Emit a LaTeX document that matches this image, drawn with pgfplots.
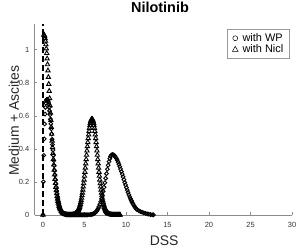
\documentclass[border=0pt]{standalone}
\usepackage{fontspec}
\setmainfont{Liberation Sans}
\usepackage{pgfplots}
\usepackage{pgfplotstable}
\pgfplotsset{compat=1.18}
\usetikzlibrary{calc}
\pgfplotsset{legend image code/.code={\draw[#1, mark options={line width=0.5bp, scale=1.3}] plot coordinates {(4bp,0bp)}; \path (0bp,0bp) (9bp,0bp);}}

\pgfplotstableread{
x y
0 0
0.05 0.20
0.1 0.36
0.15 0.46
0.2 0.55
0.25 0.61
0.3 0.65
0.35 0.675
0.4 0.69
0.45 0.698
0.5 0.700
0.55 0.698
0.6 0.692
0.65 0.682
0.7 0.668
0.75 0.650
0.8 0.629
0.85 0.606
0.9 0.579
0.95 0.551
1.0 0.521
1.05 0.489
1.1 0.457
1.15 0.425
1.2 0.392
1.25 0.360
1.3 0.328
1.35 0.298
1.4 0.268
1.45 0.241
1.5 0.214
1.55 0.190
1.6 0.167
1.65 0.146
1.7 0.127
1.75 0.110
1.8 0.095
1.85 0.081
1.9 0.069
1.95 0.058
2.0 0.049
2.05 0.041
2.1 0.034
2.15 0.028
2.2 0.023
2.25 0.019
2.3 0.015
2.4 0.010
2.5 0.006
2.6 0.004
2.7 0.002
2.8 0
2.9 0
3.0 0
3.1 0
3.2 0
3.3 0
3.4 0
3.5 0
3.6 0
3.7 0
3.8 0
3.9 0
4.0 0
4.1 0
4.2 0
4.3 0
4.4 0
4.5 0
4.6 0
4.7 0
4.8 0
4.9 0
5.0 0
5.1 0
5.2 0
5.3 0
5.4 0
5.55 0.001
5.75 0.002
5.85 0.003
5.95 0.004
6.05 0.006
6.15 0.008
6.25 0.012
6.35 0.016
6.45 0.022
6.55 0.029
6.65 0.038
6.75 0.049
6.85 0.063
6.95 0.079
7.05 0.097
7.15 0.119
7.25 0.142
7.35 0.167
7.45 0.194
7.55 0.221
7.65 0.249
7.75 0.276
7.85 0.300
7.95 0.322
8.05 0.340
8.15 0.354
8.25 0.362
8.35 0.365
8.45 0.364
8.55 0.361
8.65 0.356
8.75 0.349
8.85 0.341
8.95 0.331
9.05 0.319
9.15 0.306
9.25 0.292
9.35 0.277
9.45 0.262
9.55 0.246
9.65 0.230
9.75 0.213
9.85 0.197
9.95 0.181
10.05 0.165
10.15 0.150
10.25 0.136
10.35 0.122
10.45 0.109
10.55 0.097
10.65 0.086
10.75 0.075
10.85 0.066
10.95 0.057
11.05 0.049
11.15 0.042
11.25 0.036
11.35 0.031
11.55 0.025
11.75 0.020
11.95 0.016
12.15 0.012
12.35 0.009
12.55 0.006
12.75 0.004
12.95 0.002
13.15 0.001
13.3 0
}\wpdata

\pgfplotstableread{
x y
0 0
0.1 1.090
0.15 1.088
0.2 1.080
0.25 1.068
0.3 1.052
0.35 1.031
0.4 1.006
0.45 0.978
0.5 0.945
0.55 0.910
0.6 0.873
0.65 0.833
0.7 0.791
0.75 0.749
0.8 0.705
0.85 0.661
0.9 0.617
0.95 0.573
1.0 0.531
1.05 0.489
1.1 0.448
1.15 0.409
1.2 0.372
1.25 0.336
1.3 0.303
1.35 0.272
1.4 0.243
1.45 0.216
1.5 0.191
1.55 0.168
1.6 0.148
1.65 0.129
1.7 0.112
1.75 0.097
1.8 0.083
1.85 0.072
1.9 0.061
1.95 0.052
2.0 0.044
2.05 0.037
2.1 0.031
2.2 0.022
2.3 0.015
2.4 0.010
2.5 0.007
2.6 0.004
2.7 0.003
2.8 0.002
2.9 0.001
3.0 0
3.1 0
3.2 0
3.3 0
3.4 0
3.5 0
3.6 0.002
3.7 0.003
3.8 0.004
3.9 0.007
3.95 0.008
4.0 0.010
4.05 0.013
4.1 0.016
4.15 0.019
4.2 0.023
4.25 0.028
4.3 0.034
4.35 0.040
4.4 0.047
4.45 0.056
4.5 0.065
4.55 0.076
4.6 0.088
4.65 0.102
4.7 0.117
4.75 0.133
4.8 0.151
4.85 0.170
4.9 0.190
4.95 0.212
5.0 0.235
5.05 0.259
5.1 0.284
5.15 0.310
5.2 0.336
5.25 0.362
5.3 0.388
5.35 0.414
5.4 0.439
5.45 0.463
5.5 0.485
5.55 0.506
5.6 0.525
5.65 0.541
5.7 0.555
5.75 0.566
5.8 0.574
5.85 0.578
5.9 0.580
5.95 0.578
6.0 0.574
6.05 0.566
6.1 0.555
6.15 0.541
6.2 0.525
6.25 0.506
6.3 0.485
6.35 0.463
6.4 0.439
6.45 0.414
6.5 0.388
6.55 0.362
6.6 0.336
6.65 0.310
6.7 0.284
6.75 0.259
6.8 0.235
6.85 0.212
6.9 0.190
6.95 0.170
7.0 0.151
7.05 0.133
7.1 0.117
7.15 0.102
7.2 0.088
7.25 0.076
7.3 0.065
7.35 0.056
7.4 0.047
7.45 0.040
7.5 0.034
7.55 0.028
7.6 0.023
7.65 0.019
7.7 0.016
7.75 0.013
7.8 0.010
7.85 0.008
7.9 0.007
8.0 0.004
8.1 0.003
8.2 0.002
8.3 0
8.4 0
8.5 0
8.6 0
8.7 0
8.8 0
8.9 0
9.0 0
9.1 0
9.2 0
9.3 0
}\nicldata

\begin{document}
\begin{tikzpicture}
\begin{axis}[
  name=ax,
  scale only axis,
  width=257.5bp, height=191bp,
  xmin=-1, xmax=30, ymin=0, ymax=1.155,
  axis x line*=bottom, axis y line*=left,
  axis line style={-, draw=black!45, line width=0.5bp},
  xtick={0,5,10,15,20,25,30},
  ytick={0,0.2,0.4,0.6,0.8,1},
  tick align=inside,
  major tick length=2.5bp,
  tick style={draw=black!45, line width=0.4bp},
  /pgf/number format/assume math mode=true,
  ticklabel style={font=\fontsize{7.5}{9}\selectfont, text=black!80},
  xticklabel style={yshift=-4bp},
  yticklabel style={xshift=-2bp},
  title={Nilotinib},
  title style={at={(axis description cs:0.487,1.03)}, anchor=base, font=\fontsize{14.5}{16}\selectfont\bfseries},
  xlabel={DSS},
  xlabel style={at={(axis description cs:0.503,-0.162)}, anchor=base, font=\fontsize{14}{16}\selectfont, text=black!85},
  ylabel={Medium + Ascites},
  ylabel style={at={(axis description cs:-0.061,0.493)}, anchor=base, font=\fontsize{14}{16}\selectfont, text=black!85},
  legend style={at={(axis description cs:1,1)}, anchor=north east, xshift=-3bp, yshift=-5.3bp,
    draw=black!40, line width=0.5bp, font=\fontsize{11}{12}\selectfont,
    inner xsep=3.5bp, inner ysep=2bp, row sep=-2bp},
  legend cell align=left,
  clip=false,
]
\addplot[black, dashed, line width=1.6bp, dash pattern=on 6bp off 3bp, forget plot] coordinates {(0,0) (0,1.155)};
\addplot[only marks, mark=o, mark size=1.9bp, mark options={line width=0.9bp, draw=black}] table[x=x,y=y] {\wpdata};
\addlegendentry{with WP}
\addplot[only marks, mark=triangle, mark size=2.5bp, mark options={line width=0.9bp, draw=black}] table[x=x,y=y] {\nicldata};
\addlegendentry{with Nicl}
\end{axis}
\pgfresetboundingbox
\path[use as bounding box] ($(ax.south west)+(-34.7bp,-34bp)$) rectangle ($(ax.north east)+(7bp,24bp)$);
\end{tikzpicture}
\end{document}
